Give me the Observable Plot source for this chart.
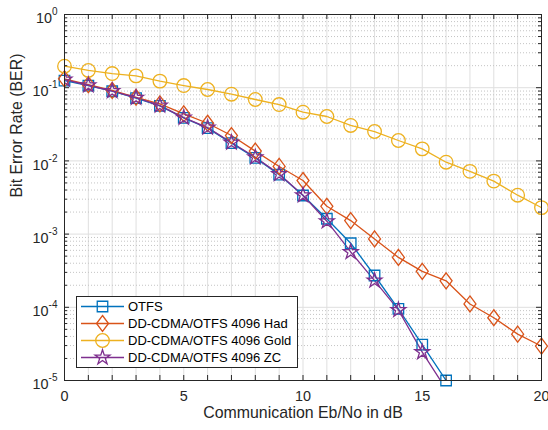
<!DOCTYPE html>
<html><head><meta charset="utf-8">
<script src="https://cdn.jsdelivr.net/npm/d3@7"></script>
<script src="https://cdn.jsdelivr.net/npm/@observablehq/plot@0.6"></script>
<style>
body{margin:0;background:#fff;}
#wrap{position:relative;width:548px;height:430px;font-family:"Liberation Sans",Arial,Helvetica,sans-serif;}
#legend{position:absolute;left:76px;top:296px;}
</style></head><body><div id="wrap"></div>
<script>
// ---- data ----
const snrOTFS = [0,1,2,3,4,5,6,7,8,9,10,11,12,13,14,15,16];
const snrFull = [0,1,2,3,4,5,6,7,8,9,10,11,12,13,14,15,16,17,18,19,20];
const berOTFS = [0.125,0.107,0.0895,0.072,0.0565,0.0388,0.028,0.0175,0.011,0.0065,0.00337,0.00162,0.00075,0.000272,9.5e-5,3.1e-5,1.0e-5];
const berHad  = [0.132,0.11,0.092,0.074,0.06,0.044,0.0327,0.0222,0.0136,0.0084,0.0054,0.0024,0.00153,0.00086,0.00048,0.00031,0.00023,0.000111,7.2e-5,4.3e-5,2.95e-5];
const berGold = [0.197,0.172,0.156,0.145,0.123,0.107,0.0945,0.0815,0.069,0.0589,0.0463,0.0404,0.0305,0.0252,0.019,0.0146,0.0096,0.0072,0.0053,0.0034,0.0023];
const berZC   = [0.129,0.108,0.09,0.073,0.057,0.039,0.0285,0.0178,0.0112,0.0066,0.0034,0.0015,0.00057,0.000232,9.2e-5,2.44e-5,7.6e-6];
const seriesNames = ["OTFS","DD-CDMA/OTFS 4096 Had","DD-CDMA/OTFS 4096 Gold","DD-CDMA/OTFS 4096 ZC"];
const seriesColors = ["#0072BD","#D95319","#EDB120","#7E2F8E"];
const xTicks = d3.range(0,21);
const xTickLabels = [0,5,10,15,20];
const yDecades = [1e-5,1e-4,1e-3,1e-2,1e-1,1];
const yMinor = [];
for (let e=-5;e<0;e++) for (let m=2;m<=9;m++) yMinor.push(m*Math.pow(10,e));
const xTitle = "Communication Eb/No in dB";
const yTitle = "Bit Error Rate (BER)";

// ---- symbols ----
const symSquare = {draw(c){const h=5.25;c.moveTo(-h,-h);c.lineTo(h,-h);c.lineTo(h,h);c.lineTo(-h,h);c.closePath();}};
const symDiamond = {draw(c){const w=6,h=8;c.moveTo(0,-h);c.lineTo(w,0);c.lineTo(0,h);c.lineTo(-w,0);c.closePath();}};
const symCircle = {draw(c){const r=6.8;c.moveTo(r,0);c.arc(0,0,r,0,2*Math.PI);}};
const symStar = {draw(c){const R=7.8,r=R*0.382;for(let i=0;i<10;i++){const a=-Math.PI/2+i*Math.PI/5;const rr=i%2?r:R;const x=rr*Math.cos(a),y=rr*Math.sin(a);if(i===0)c.moveTo(x,y);else c.lineTo(x,y);}c.closePath();}};
const symbols = [symSquare,symDiamond,symCircle,symStar];

const seriesData = [
  snrOTFS.map((x,i)=>({x,y:berOTFS[i]})),
  snrFull.map((x,i)=>({x,y:berHad[i]})),
  snrFull.map((x,i)=>({x,y:berGold[i]})),
  snrOTFS.map((x,i)=>({x,y:berZC[i]}))
];

const axisColor = "#262626";
const marks = [
  Plot.ruleX(xTicks, {stroke:"#dfdfdf", strokeWidth:1}),
  Plot.ruleY(yMinor, {stroke:"#c4c4c4", strokeWidth:1, strokeDasharray:"1,2"}),
  Plot.ruleY(yDecades, {stroke:"#dfdfdf", strokeWidth:1}),
];
seriesData.forEach((d,i)=>{
  marks.push(Plot.line(d, {x:"x", y:"y", stroke:seriesColors[i], strokeWidth:1.3, clip:true}));
});
seriesData.forEach((d,i)=>{
  marks.push(Plot.dot(d, {x:"x", y:"y", symbol:symbols[i], stroke:seriesColors[i], fill:"none", strokeWidth:1.3, r:6, clip: i===3}));
});
marks.push(
  Plot.tickX(xTicks, {x:d=>d, insetTop:361, stroke:axisColor}),
  Plot.tickX(xTicks, {x:d=>d, insetBottom:361, stroke:axisColor}),
  Plot.tickY(yDecades, {y:d=>d, insetRight:472, stroke:axisColor}),
  Plot.tickY(yDecades, {y:d=>d, insetLeft:472, stroke:axisColor}),
  Plot.tickY(yMinor, {y:d=>d, insetRight:474, stroke:axisColor}),
  Plot.tickY(yMinor, {y:d=>d, insetLeft:474, stroke:axisColor}),
  Plot.frame({stroke:axisColor, strokeWidth:1}),
  Plot.axisX(xTickLabels, {tickSize:0, tickPadding:10, fontSize:14.4, color:axisColor, label:null}),
  Plot.axisY(yDecades, {tickSize:0, tickPadding:7, fontSize:14.4, color:axisColor, label:null, tickFormat:d=>String(Math.round(Math.log10(d)))}),
  Plot.text([xTitle], {frameAnchor:"bottom", dy:37, fontSize:15.9, fill:axisColor, text:d=>d}),
  Plot.text([yTitle], {frameAnchor:"left", dx:-48, rotate:-90, fontSize:15.9, fill:axisColor, text:d=>d})
);

const chart = Plot.plot({
  width:548, height:430,
  marginLeft:64, marginRight:7, marginTop:14, marginBottom:50,
  style:{fontFamily:'"Liberation Sans",Arial,Helvetica,sans-serif', background:"#fff", color:axisColor},
  x:{domain:[0,20]},
  y:{type:"log", domain:[1e-5,1]},
  marks
});
document.getElementById("wrap").appendChild(chart);

// superscript exponents on y tick labels
d3.select(chart).selectAll('g[aria-label="y-axis tick label"] text').each(function(){
  const t = d3.select(this);
  const e = t.text().replace("\u2212","-");
  t.text(null);
  t.append("tspan").attr("dy",4).text("10");
  t.append("tspan").attr("dy",-8).attr("font-size",10).text(e);
});

// legend
const lw=222, lh=72;
const leg = d3.select("#wrap").append("svg").attr("id","legend").attr("width",lw).attr("height",lh);
leg.append("rect").attr("x",0.5).attr("y",0.5).attr("width",lw-1).attr("height",lh-1).attr("fill","#fff").attr("stroke",axisColor);
seriesNames.forEach((name,i)=>{
  const cy = 10.5 + i*17;
  const g = leg.append("g");
  g.append("line").attr("x1",5).attr("x2",48).attr("y1",cy).attr("y2",cy).attr("stroke",seriesColors[i]).attr("stroke-width",1.3);
  const p = d3.path(); symbols[i].draw(p);
  g.append("path").attr("d",p.toString()).attr("transform",`translate(26.5,${cy})`).attr("fill","none").attr("stroke",seriesColors[i]).attr("stroke-width",1.3);
  g.append("text").attr("x",52).attr("y",cy).attr("dy","0.35em").attr("font-size",13).attr("fill","#000")
    .attr("font-family",'"Liberation Sans",Arial,Helvetica,sans-serif').text(name);
});
</script></body></html>
